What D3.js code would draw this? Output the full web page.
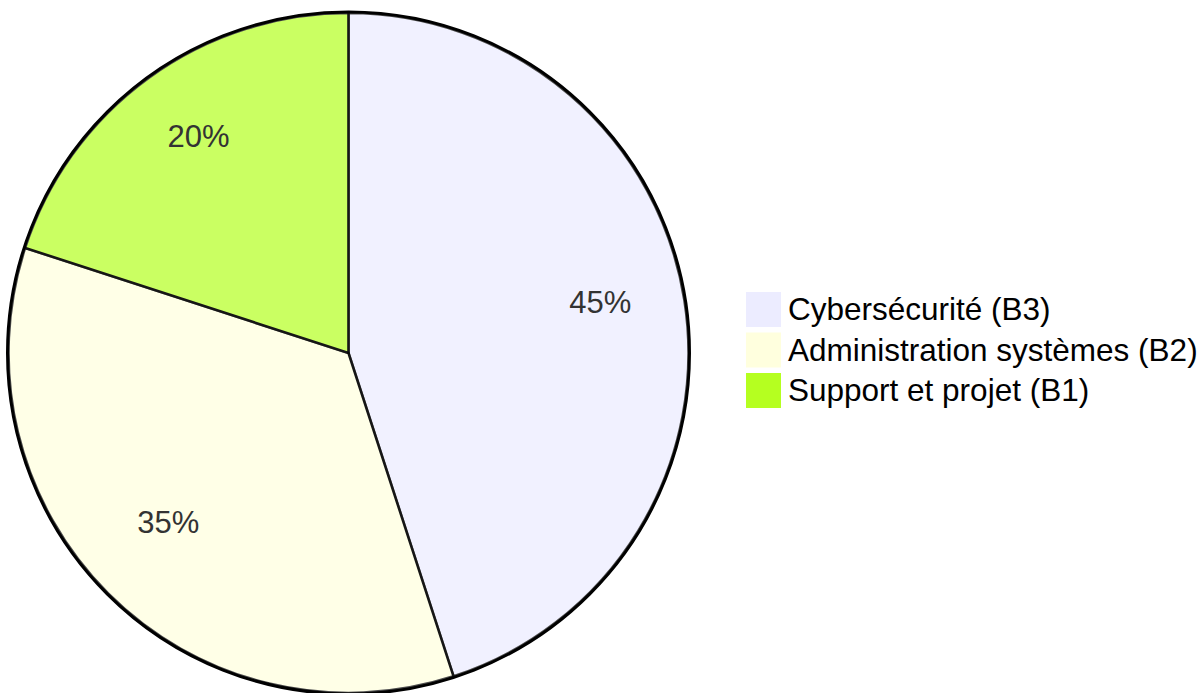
<!DOCTYPE html>
<html><head><meta charset="utf-8">
<script src="https://cdn.jsdelivr.net/npm/d3@7"></script>
<style>html,body{margin:0;padding:0;background:#fff;}svg{display:block;}</style>
</head><body>
<svg id="c" width="1204" height="693"></svg>
<script>
const categories = ["Cybersécurité (B3)", "Administration systèmes (B2)", "Support et projet (B1)"];
const values = [45, 35, 20];
const colors = ["#ECECFF", "#ffffde", "hsl(80, 100%, 56.27%)"];

const svg = d3.select("#c");
const cx = 348.5, cy = 353, R = 340;
const g = svg.append("g").attr("transform", `translate(${cx},${cy})`);
const color = d3.scaleOrdinal().domain(categories).range(colors);
const data = categories.map((c, i) => ({label: c, value: values[i]}));
const pie = d3.pie().value(d => d.value).sort(null);
const arcs = pie(data);
const arc = d3.arc().innerRadius(0).outerRadius(R);
const labelArc = d3.arc().innerRadius(R * 0.75).outerRadius(R * 0.75);
const total = d3.sum(values);

g.append("circle").attr("r", R + 1).attr("fill", "none").attr("stroke", "#000").attr("stroke-width", 3);
g.selectAll("path.slice").data(arcs).enter().append("path")
  .attr("d", arc).attr("fill", d => color(d.data.label))
  .attr("opacity", 0.7).attr("stroke", "#000").attr("stroke-width", 2.6);
g.selectAll("text.lbl").data(arcs).enter().append("text")
  .attr("transform", d => `translate(${labelArc.centroid(d)})`)
  .attr("text-anchor", "middle")
  .attr("font-family", "Liberation Sans, Arial, sans-serif")
  .attr("font-size", 31).attr("fill", "#333")
  .text(d => Math.round(d.data.value / total * 100) + "%");

const lg = svg.append("g").attr("transform", "translate(746,292)");
const item = lg.selectAll("g").data(categories).enter().append("g")
  .attr("transform", (d, i) => `translate(0,${i * 40.5})`);
item.append("rect").attr("width", 35).attr("height", 35).attr("fill", d => color(d));
item.append("text").attr("x", 42).attr("y", 28)
  .attr("font-family", "Liberation Sans, Arial, sans-serif")
  .attr("font-size", 31.5).attr("fill", "#000").text(d => d);
</script>
</body></html>
